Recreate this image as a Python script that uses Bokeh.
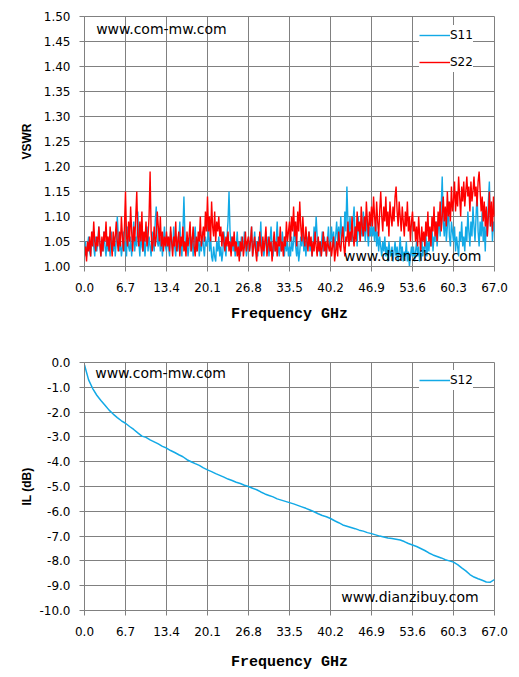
from bokeh.plotting import figure
from bokeh.models import Range1d, FixedTicker, NumeralTickFormatter, Legend, LegendItem, Label
from bokeh.layouts import column
from bokeh.embed import file_html
from bokeh.resources import INLINE
import numpy as np

# ---------------- data ----------------
freq_ticks = [0.0, 6.7, 13.4, 20.1, 26.8, 33.5, 40.2, 46.9, 53.6, 60.3, 67.0]
vswr_ticks = [1.00, 1.05, 1.10, 1.15, 1.20, 1.25, 1.30, 1.35, 1.40, 1.45, 1.50]
il_ticks = [0.0, -1.0, -2.0, -3.0, -4.0, -5.0, -6.0, -7.0, -8.0, -9.0, -10.0]

s11 = [
    1.03, 1.05, 1.02, 1.04, 1.06, 1.03, 1.02, 1.05, 1.07, 1.04,
    1.02, 1.06, 1.03, 1.05, 1.08, 1.04, 1.02, 1.05, 1.03, 1.07,
    1.04, 1.02, 1.06, 1.03, 1.05, 1.02, 1.07, 1.04, 1.03, 1.06,
    1.02, 1.05, 1.10, 1.06, 1.03, 1.05, 1.02, 1.04, 1.07, 1.03,
    1.05, 1.02, 1.08, 1.04, 1.03, 1.06, 1.02, 1.05, 1.09, 1.03,
    1.06, 1.04, 1.11, 1.05, 1.02, 1.07, 1.04, 1.03, 1.06, 1.02,
    1.05, 1.08, 1.03, 1.06, 1.04, 1.02, 1.07, 1.05, 1.03, 1.09,
    1.12, 1.05, 1.04, 1.07, 1.03, 1.06, 1.02, 1.05, 1.08, 1.04,
    1.03, 1.06, 1.04, 1.02, 1.07, 1.05, 1.03, 1.08, 1.04, 1.02,
    1.06, 1.03, 1.05, 1.09, 1.04, 1.02, 1.07, 1.14, 1.06, 1.03,
    1.05, 1.02, 1.04, 1.07, 1.03, 1.06, 1.02, 1.05, 1.08, 1.03,
    1.04, 1.06, 1.02, 1.05, 1.03, 1.07, 1.04, 1.02, 1.06, 1.04,
    1.05, 1.08, 1.03, 1.06, 1.02, 1.01, 1.04, 1.02, 1.01, 1.05,
    1.03, 1.06, 1.02, 1.04, 1.01, 1.03, 1.07, 1.04, 1.02, 1.06,
    1.09, 1.15, 1.07, 1.04, 1.06, 1.03, 1.05, 1.02, 1.04, 1.07,
    1.03, 1.05, 1.02, 1.06, 1.04, 1.03, 1.07, 1.05, 1.02, 1.04,
    1.06, 1.03, 1.05, 1.08, 1.02, 1.04, 1.07, 1.03, 1.05, 1.02,
    1.06, 1.04, 1.09, 1.03, 1.05, 1.02, 1.04, 1.07, 1.03, 1.06,
    1.02, 1.05, 1.08, 1.04, 1.02, 1.06, 1.03, 1.05, 1.09, 1.04,
    1.02, 1.05, 1.03, 1.07, 1.04, 1.02, 1.06, 1.03, 1.05, 1.02,
    1.04, 1.02, 1.06, 1.03, 1.05, 1.09, 1.04, 1.02, 1.05, 1.01,
    1.03, 1.06, 1.04, 1.08, 1.03, 1.05, 1.02, 1.06, 1.04, 1.07,
    1.03, 1.05, 1.02, 1.04, 1.08, 1.05, 1.10, 1.06, 1.03, 1.05,
    1.02, 1.04, 1.07, 1.03, 1.06, 1.04, 1.02, 1.05, 1.08, 1.04,
    1.05, 1.08, 1.04, 1.07, 1.03, 1.06, 1.09, 1.05, 1.08, 1.04,
    1.10, 1.06, 1.08, 1.05, 1.11, 1.07, 1.16, 1.09, 1.06, 1.10,
    1.07, 1.05, 1.09, 1.12, 1.06, 1.08, 1.04, 1.10, 1.07, 1.05,
    1.09, 1.06, 1.11, 1.08, 1.05, 1.10, 1.07, 1.04, 1.08, 1.06,
    1.09, 1.06, 1.08, 1.05, 1.10, 1.04, 1.07, 1.03, 1.06, 1.04,
    1.02, 1.05, 1.03, 1.06, 1.02, 1.04, 1.01, 1.05, 1.03, 1.02,
    1.04, 1.01, 1.03, 1.05, 1.02, 1.04, 1.01, 1.03, 1.06, 1.02,
    1.04, 1.01, 1.03, 1.02, 1.05, 1.01, 1.03, 1.00, 1.02, 1.04,
    1.02, 1.04, 1.01, 1.03, 1.05, 1.02, 1.04, 1.01, 1.03, 1.06,
    1.02, 1.04, 1.03, 1.07, 1.02, 1.05, 1.03, 1.06, 1.04, 1.08,
    1.03, 1.06, 1.05, 1.09, 1.04, 1.07, 1.10, 1.06, 1.12, 1.18,
    1.09, 1.06, 1.11, 1.05, 1.08, 1.13, 1.06, 1.04, 1.09, 1.07,
    1.05, 1.08, 1.03, 1.06, 1.04, 1.02, 1.07, 1.05, 1.09, 1.04,
    1.06, 1.03, 1.08, 1.05, 1.11, 1.07, 1.04, 1.09, 1.06, 1.12,
    1.08, 1.05, 1.10, 1.15, 1.07, 1.04, 1.09, 1.06, 1.11, 1.05,
    1.08, 1.03, 1.10, 1.06, 1.13, 1.17, 1.08, 1.12, 1.05, 1.09,
    1.07,
]

s22 = [
    1.02, 1.04, 1.01, 1.05, 1.03, 1.06, 1.02, 1.07, 1.04, 1.09,
    1.05, 1.03, 1.06, 1.04, 1.08, 1.05, 1.02, 1.06, 1.03, 1.07,
    1.05, 1.09, 1.04, 1.06, 1.03, 1.08, 1.05, 1.02, 1.07, 1.04,
    1.06, 1.09, 1.05, 1.03, 1.07, 1.04, 1.10, 1.06, 1.03, 1.08,
    1.15, 1.06, 1.04, 1.09, 1.05, 1.12, 1.07, 1.03, 1.08, 1.05,
    1.10, 1.15, 1.06, 1.04, 1.09, 1.05, 1.11, 1.03, 1.07, 1.05,
    1.09, 1.04, 1.06, 1.10, 1.19, 1.07, 1.03, 1.05, 1.08, 1.04,
    1.06, 1.11, 1.08, 1.05, 1.10, 1.04, 1.07, 1.03, 1.06, 1.04,
    1.07, 1.04, 1.06, 1.03, 1.08, 1.05, 1.02, 1.06, 1.04, 1.09,
    1.03, 1.05, 1.07, 1.02, 1.06, 1.04, 1.08, 1.03, 1.05, 1.02,
    1.07, 1.04, 1.06, 1.09, 1.03, 1.05, 1.08, 1.04, 1.02, 1.06,
    1.03, 1.07, 1.05, 1.10, 1.04, 1.06, 1.08, 1.05, 1.11, 1.07,
    1.14, 1.07, 1.10, 1.05, 1.13, 1.08, 1.06, 1.11, 1.05, 1.09,
    1.07, 1.10, 1.06, 1.08, 1.04, 1.07, 1.05, 1.03, 1.06, 1.04,
    1.07, 1.03, 1.05, 1.02, 1.06, 1.04, 1.07, 1.03, 1.05, 1.02,
    1.04, 1.01, 1.05, 1.03, 1.06, 1.02, 1.04, 1.07, 1.03, 1.05,
    1.06, 1.03, 1.05, 1.08, 1.02, 1.04, 1.06, 1.03, 1.01, 1.05,
    1.03, 1.07, 1.04, 1.02, 1.06, 1.03, 1.05, 1.08, 1.02, 1.04,
    1.06, 1.03, 1.05, 1.01, 1.04, 1.07, 1.03, 1.05, 1.02, 1.06,
    1.04, 1.08, 1.03, 1.05, 1.02, 1.06, 1.04, 1.09, 1.05, 1.07,
    1.09, 1.05, 1.10, 1.07, 1.12, 1.06, 1.09, 1.04, 1.11, 1.07,
    1.13, 1.08, 1.05, 1.10, 1.06, 1.04, 1.08, 1.05, 1.03, 1.07,
    1.04, 1.06, 1.02, 1.05, 1.03, 1.07, 1.04, 1.02, 1.06, 1.03,
    1.05, 1.02, 1.04, 1.07, 1.03, 1.05, 1.02, 1.06, 1.04, 1.03,
    1.05, 1.02, 1.04, 1.06, 1.01, 1.03, 1.05, 1.02, 1.07, 1.04,
    1.03, 1.06, 1.08, 1.04, 1.02, 1.06, 1.05, 1.09, 1.04, 1.07,
    1.05, 1.10, 1.06, 1.04, 1.08, 1.05, 1.11, 1.07, 1.09, 1.05,
    1.12, 1.08, 1.06, 1.10, 1.07, 1.13, 1.09, 1.06, 1.11, 1.08,
    1.12, 1.08, 1.14, 1.10, 1.07, 1.13, 1.09, 1.06, 1.11, 1.15,
    1.10, 1.07, 1.12, 1.09, 1.14, 1.08, 1.11, 1.06, 1.13, 1.10,
    1.08, 1.12, 1.09, 1.14, 1.16, 1.11, 1.08, 1.13, 1.10, 1.07,
    1.12, 1.09, 1.06, 1.11, 1.08, 1.13, 1.07, 1.10, 1.05, 1.09,
    1.11, 1.07, 1.09, 1.05, 1.08, 1.04, 1.10, 1.06, 1.03, 1.08,
    1.05, 1.07, 1.04, 1.09, 1.06, 1.11, 1.05, 1.08, 1.04, 1.10,
    1.07, 1.12, 1.06, 1.09, 1.05, 1.11, 1.08, 1.13, 1.07, 1.10,
    1.14, 1.09, 1.12, 1.08, 1.15, 1.10, 1.13, 1.09, 1.16, 1.11,
    1.13, 1.17, 1.11, 1.15, 1.12, 1.18, 1.14, 1.10, 1.16, 1.13,
    1.17, 1.12, 1.15, 1.18, 1.14, 1.16, 1.11, 1.17, 1.13, 1.15,
    1.18, 1.14, 1.16, 1.12, 1.17, 1.19, 1.15, 1.11, 1.14, 1.09,
    1.13, 1.08, 1.12, 1.06, 1.10, 1.15, 1.08, 1.13, 1.07, 1.14,
    1.10,
]

s12 = [
    -0.10, -0.70, -1.05, -1.32, -1.53, -1.72, -1.92, -2.08, -2.22, -2.35,
    -2.45, -2.58, -2.70, -2.84, -2.97, -3.02, -3.12, -3.20, -3.28, -3.38,
    -3.45, -3.55, -3.63, -3.72, -3.80, -3.92, -4.00, -4.08, -4.15, -4.25,
    -4.33, -4.40, -4.48, -4.55, -4.62, -4.70, -4.76, -4.83, -4.88, -4.95,
    -5.00, -5.07, -5.13, -5.22, -5.30, -5.36, -5.42, -5.50, -5.55, -5.60,
    -5.65, -5.70, -5.76, -5.82, -5.88, -5.95, -6.02, -6.10, -6.17, -6.22,
    -6.29, -6.38, -6.46, -6.55, -6.60, -6.65, -6.70, -6.76, -6.80, -6.86,
    -6.90, -6.95, -7.00, -7.04, -7.08, -7.10, -7.13, -7.16, -7.22, -7.30,
    -7.36, -7.42, -7.50, -7.58, -7.68, -7.76, -7.82, -7.88, -7.95, -8.00,
    -8.05, -8.15, -8.28, -8.40, -8.55, -8.65, -8.72, -8.78, -8.85, -8.86,
    -8.75,
]

freq_s11 = np.linspace(0.0, 67.0, len(s11))
freq_s22 = np.linspace(0.0, 67.0, len(s22))
freq_s12 = np.linspace(0.0, 67.0, len(s12))

BLUE = "#12A9E6"
RED = "#FF0000"
GRID = "#808080"
TICK_FONT = "DejaVu Sans"


def style(p, yfmt, ylabel, xlab_standoff, ylab_standoff):
    p.background_fill_color = "white"
    p.border_fill_color = "white"
    p.outline_line_color = GRID
    p.outline_line_width = 1
    for ax in (p.xaxis[0], p.yaxis[0]):
        ax.axis_line_color = GRID
        ax.axis_line_width = 1
        ax.major_tick_line_color = GRID
        ax.major_tick_line_width = 1
        ax.major_tick_out = 5
        ax.major_tick_in = 0
        ax.minor_tick_line_color = None
        ax.major_label_text_font = TICK_FONT
        ax.major_label_text_font_size = "12px"
        ax.major_label_text_color = "black"
    p.xaxis.ticker = FixedTicker(ticks=freq_ticks)
    p.xaxis.formatter = NumeralTickFormatter(format="0.0")
    p.xaxis.major_label_standoff = 11
    p.xaxis.axis_label = "Frequency GHz"
    p.xaxis.axis_label_text_font = "Liberation Mono"
    p.xaxis.axis_label_text_font_style = "bold"
    p.xaxis.axis_label_text_font_size = "15px"
    p.xaxis.axis_label_text_color = "black"
    p.xaxis.axis_label_standoff = xlab_standoff
    p.yaxis.formatter = NumeralTickFormatter(format=yfmt)
    p.yaxis.major_label_standoff = 9
    p.yaxis.axis_label = ylabel
    p.yaxis.axis_label_text_font = "Liberation Sans"
    p.yaxis.axis_label_text_font_style = "bold"
    p.yaxis.axis_label_text_font_size = "12px"
    p.yaxis.axis_label_text_color = "black"
    p.yaxis.axis_label_standoff = ylab_standoff
    p.xgrid.ticker = FixedTicker(ticks=freq_ticks)
    for g in (p.xgrid[0], p.ygrid[0]):
        g.grid_line_color = GRID
        g.grid_line_width = 1


def make_legend(items, loc):
    lg = Legend(items=items, location=loc)
    lg.border_line_color = None
    lg.background_fill_color = "white"
    lg.background_fill_alpha = 1.0
    lg.padding = 7
    lg.spacing = 7
    lg.margin = 0
    lg.glyph_width = 31
    lg.glyph_height = 20
    lg.label_height = 20
    lg.label_standoff = 0
    lg.label_text_font = TICK_FONT
    lg.label_text_font_size = "12px"
    lg.label_text_color = "black"
    return lg


def mark(p, x, y, txt):
    p.add_layout(Label(x=x, y=y, text=txt, text_font=TICK_FONT, text_font_size="14px",
                       text_color="black", text_baseline="alphabetic"))


# ---------------- top: VSWR ----------------
p1 = figure(width=511, height=338, output_backend="svg", toolbar_location=None,
            x_range=Range1d(0, 67), y_range=Range1d(1.0, 1.5),
            min_border_left=84, min_border_right=17, min_border_top=16, min_border_bottom=72)
style(p1, "0.00", "VSWR", 11, 7)
p1.yaxis.ticker = FixedTicker(ticks=vswr_ticks)
p1.ygrid.ticker = FixedTicker(ticks=vswr_ticks)

r11 = p1.line(freq_s11, s11, line_color=BLUE, line_width=1.4)
r22 = p1.line(freq_s22, s22, line_color=RED, line_width=1.4)

mark(p1, 1.9, 1.476, "www.com-mw.com")
mark(p1, 42.4, 1.022, "www.dianzibuy.com")
p1.add_layout(make_legend([LegendItem(label="S11", renderers=[r11]),
                           LegendItem(label="S22", renderers=[r22])], (335, 194)))

# ---------------- bottom: IL ----------------
p2 = figure(width=511, height=335, output_backend="svg", toolbar_location=None,
            x_range=Range1d(0, 67), y_range=Range1d(-10.0, 0.0),
            min_border_left=84, min_border_right=17, min_border_top=24, min_border_bottom=63)
style(p2, "0.0", "IL (dB)", 15, 2)
p2.yaxis.ticker = FixedTicker(ticks=il_ticks)
p2.ygrid.ticker = FixedTicker(ticks=il_ticks)

r12 = p2.line(freq_s12, s12, line_color=BLUE, line_width=1.5)

mark(p2, 1.75, -0.415, "www.com-mw.com")
mark(p2, 41.95, -9.45, "www.dianzibuy.com")
p2.add_layout(make_legend([LegendItem(label="S12", renderers=[r12])], (335, 220)))

layout = column(p1, p2)
open("out.html", "w").write(file_html(layout, INLINE))
